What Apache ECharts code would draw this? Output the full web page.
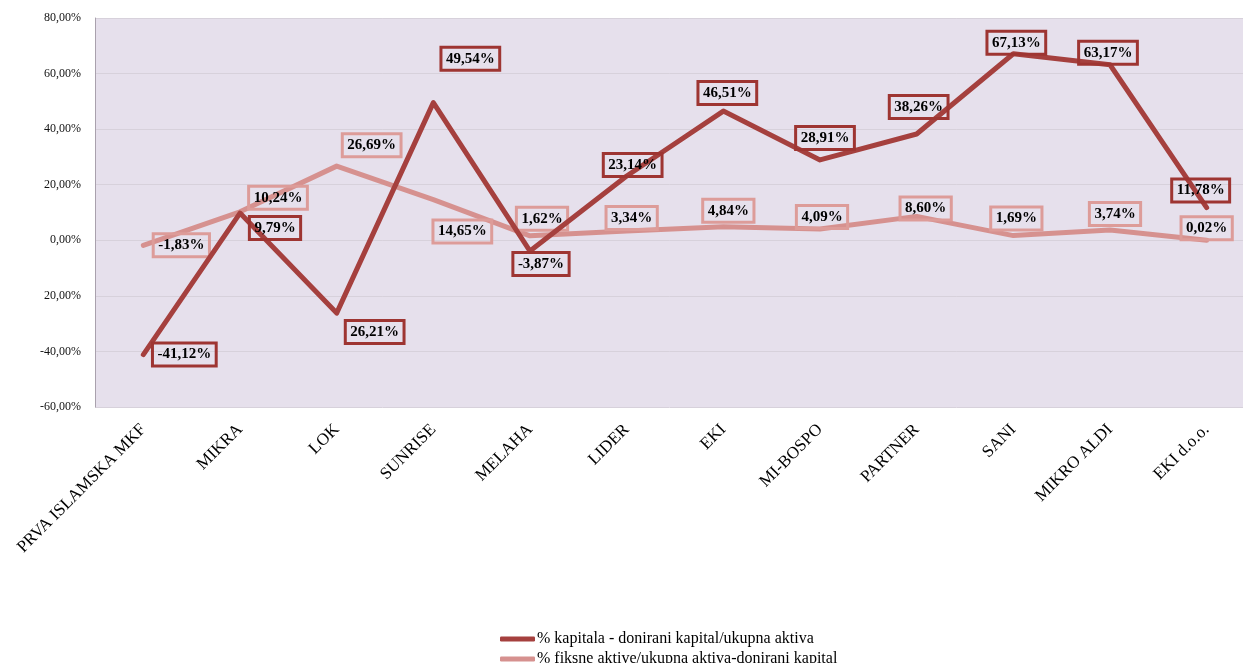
<!DOCTYPE html>
<html>
<head>
<meta charset="utf-8">
<script src="https://cdn.jsdelivr.net/npm/echarts@6/dist/echarts.min.js"></script>
<style>
html,body{margin:0;padding:0;background:#fff;}
#chart{width:1243px;height:663px;}
</style>
</head>
<body>
<div id="chart"></div>
<script>
// ---- data ----
const categories = ['PRVA ISLAMSKA MKF','MIKRA','LOK','SUNRISE','MELAHA','LIDER','EKI','MI-BOSPO','PARTNER','SANI','MIKRO ALDI','EKI d.o.o.'];
const kapitala = [-41.12, 9.79, -26.21, 49.54, -3.87, 23.14, 46.51, 28.91, 38.26, 67.13, 63.17, 11.78];
const fiksne = [-1.83, 10.24, 26.69, 14.65, 1.62, 3.34, 4.84, 4.09, 8.60, 1.69, 3.74, 0.02];
const yTickLabels = ['-60,00%','-40,00%','20,00%','0,00%','20,00%','40,00%','60,00%','80,00%'];
const seriesNames = ['% kapitala - donirani kapital/ukupna aktiva','% fiksne aktive/ukupna aktiva-donirani kapital'];
// label text as printed in the source (LOK label printed without sign)
const kapitalaLabelOverride = {2: '26,21%'};

// ---- layout (label offsets in px, not data) ----
const kapOffsets = [[41,0],[35,15],[38,19],[37,-44],[11,13],[6,-11],[4,-18],[5,-22],[2,-27],[3,-11],[-2,-12],[-6,-17]];
const fikOffsets = [[38,0],[38,-14],[35,-21],[29,32],[12,-17],[5,-13],[5,-16],[2,-12],[9,-8],[3,-17],[5,-16],[0,-12]];

const SERIF = "'Liberation Serif','Times New Roman',serif";
const DARK = '#a5403e', LIGHT = '#d6918f';
const fmt = v => v.toFixed(2).replace('.', ',') + '%';

function buildData(values, offsets, border, override) {
  return values.map((v, i) => ({
    value: v,
    label: {
      offset: offsets[i],
      formatter: () => (override && override[i]) ? override[i] : fmt(v),
      borderColor: border
    }
  }));
}

const labelBase = {
  show: true,
  position: 'inside',
  fontFamily: SERIF,
  fontWeight: 'bold',
  fontSize: 15,
  color: '#000',
  lineHeight: 15,
  padding: [4, 5, 4, 5],
  borderWidth: 1.5,
  backgroundColor: 'transparent'
};

const legendBase = {
  orient: 'vertical',
  left: 495,
  itemWidth: 35, itemHeight: 5, itemGap: 4,
  icon: 'roundRect',
  textStyle: {fontFamily: SERIF, fontSize: 16, color: '#000', padding: [0, 0, 0, -3]}
};

const chart = echarts.init(document.getElementById('chart'), null, {renderer: 'canvas'});
chart.setOption({
  animation: false,
  backgroundColor: '#ffffff',
  grid: {
    left: 95, top: 18, width: 1160, height: 389,
    outerBoundsMode: 'none', containLabel: false,
    show: true, backgroundColor: '#e6e0ec', borderWidth: 0
  },
  legend: [
    Object.assign({}, legendBase, {data: [seriesNames[0]], top: 626}),
    Object.assign({}, legendBase, {data: [seriesNames[1]], top: 646})
  ],
  xAxis: {
    type: 'category',
    data: categories,
    boundaryGap: true,
    axisLine: {show: false},
    axisTick: {show: false},
    axisLabel: {rotate: 45, margin: 20, interval: 0, fontFamily: SERIF, fontSize: 17, color: '#000'},
    splitLine: {show: false}
  },
  yAxis: {
    type: 'value',
    min: -60, max: 80, interval: 20,
    axisLine: {show: true, lineStyle: {color: '#a9a1ad', width: 1}},
    axisTick: {show: false},
    axisLabel: {
      margin: 14, fontFamily: SERIF, fontSize: 12, color: '#111',
      formatter: v => yTickLabels[Math.round((v + 60) / 20)]
    },
    splitLine: {show: true, lineStyle: {color: '#d7d1db', width: 1}}
  },
  series: [
    {
      name: seriesNames[1],
      type: 'line',
      data: buildData(fiksne, fikOffsets, '#dd9c99'),
      symbol: 'circle', symbolSize: 2, showSymbol: true,
      itemStyle: {color: LIGHT},
      lineStyle: {color: LIGHT, width: 5, cap: 'round', join: 'round'},
      label: Object.assign({}, labelBase),
      z: 2
    },
    {
      name: seriesNames[0],
      type: 'line',
      data: buildData(kapitala, kapOffsets, '#9e3532', kapitalaLabelOverride),
      symbol: 'circle', symbolSize: 2, showSymbol: true,
      itemStyle: {color: DARK},
      lineStyle: {color: DARK, width: 5, cap: 'round', join: 'round'},
      label: Object.assign({}, labelBase),
      z: 3
    }
  ]
});
</script>
</body>
</html>
